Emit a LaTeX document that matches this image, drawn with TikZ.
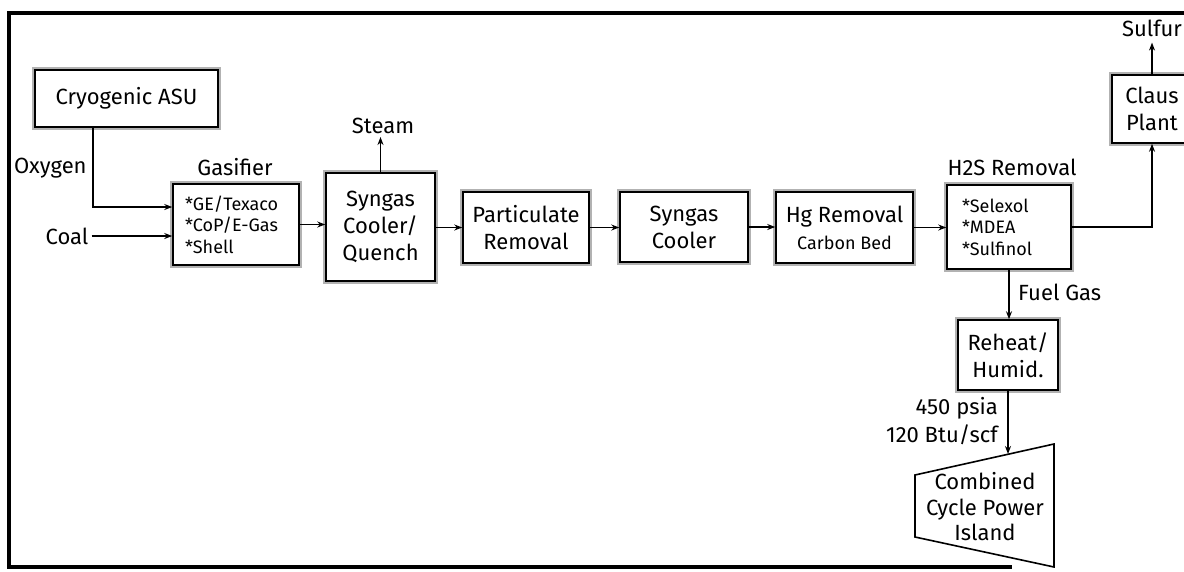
\documentclass[tikz,border=0pt]{standalone}
\usepackage{fontspec}
\setmainfont{Fira Sans}
\usetikzlibrary{arrows.meta}
\begin{document}
\begin{tikzpicture}[x=1pt,y=-1pt,
  box/.style={draw=black, line width=1.5pt, preaction={draw=gray!60, line width=6pt}, fill=white, inner sep=0pt, align=center, font=\fontsize{22}{27}\selectfont},
  small/.style={font=\fontsize{18}{21.5}\selectfont},
  lab/.style={inner sep=0pt, font=\fontsize{22}{27}\selectfont},
  arr/.style={-{Stealth[length=8pt,width=6pt]}, line width=1.4pt}]
\useasboundingbox (0,0) rectangle (1184,571);
% frame
\draw[line width=4pt] (1184,13) -- (9,13) -- (9,567) -- (1012,567);
% nodes
\node[box, minimum width=183pt, minimum height=57pt] (asu) at (126.5,98.5) {Cryogenic ASU};
\node[lab, anchor=west] (oxy) at (14,168) {Oxygen};
\node[lab] (coal) at (67,236) {Coal};
\node[lab] (gasl) at (235,167) {Gasifier};
\node[box, small, minimum width=126pt, minimum height=81pt, text width=102pt, align=left] (gas) at (236,224.5) {*GE/Texaco\\{}*CoP/E-Gas\\{}*Shell};
\node[lab] (steam) at (383,126) {Steam};
\node[box, minimum width=109pt, minimum height=108pt] (scq) at (380.5,227) {Syngas\\Cooler/\\Quench};
\node[box, minimum width=126pt, minimum height=71pt] (part) at (526,227.5) {Particulate\\Removal};
\node[box, minimum width=128pt, minimum height=70pt] (sc) at (684,227) {Syngas\\Cooler};
\node[box, minimum width=137pt, minimum height=71pt] (hg) at (844.5,227.5) {Hg Removal\\{\fontsize{18}{21}\selectfont Carbon Bed}};
\node[lab] (h2sl) at (1012,167) {H2S Removal};
\node[box, small, minimum width=124pt, minimum height=84pt, text width=94pt, align=left] (h2s) at (1009,227) {*Selexol\\{}*MDEA\\{}*Sulfinol};
\node[lab] (sulfur) at (1152,28) {Sulfur};
\node[box, minimum width=80pt, minimum height=68pt] (claus) at (1152,109) {Claus\\Plant};
\node[lab, anchor=west] (fuel) at (1018,292) {Fuel Gas};
\node[box, minimum width=100pt, minimum height=70pt] (reheat) at (1008,355) {Reheat/\\Humid.};
\node[lab, anchor=east] (psia) at (998,408) {450 psia};
\node[lab, anchor=east] (btu) at (998,435) {120 Btu/scf};
\draw[line width=1.6pt] (915,475) -- (1054,444) -- (1054,567) -- (915,537) -- cycle;
\node[lab, align=center, font=\fontsize{22}{25.5}\selectfont] (ccpi) at (985,507) {Combined\\Cycle Power\\Island};
\coordinate (ccin) at (1008,454);
% connectors
\draw[arr] ([xshift=-33.5pt]asu.south) |- ([yshift=17.5pt]gas.west);
\draw[arr, shorten <=3pt] (coal.east) -- (coal.east -| gas.west);
\draw[arr] (gas.east) -- (gas.east -| scq.west);
\draw[arr, shorten >=3pt] (scq.north) -- (scq.north |- steam.south);
\draw[arr] (scq.east |- part.west) -- (part.west);
\draw[arr] (part.east) -- (part.east -| sc.west);
\draw[arr] (sc.east) -- (sc.east -| hg.west);
\draw[arr] (hg.east) -- (hg.east -| h2s.west);
\draw[arr] (h2s.east) -| (claus.south);
\draw[arr, shorten >=6pt] (claus.north) -- (claus.north |- sulfur.south);
\draw[arr] (h2s.south) -- (h2s.south |- reheat.north);
\draw[arr] (reheat.south) -- (ccin);
\end{tikzpicture}
\end{document}
